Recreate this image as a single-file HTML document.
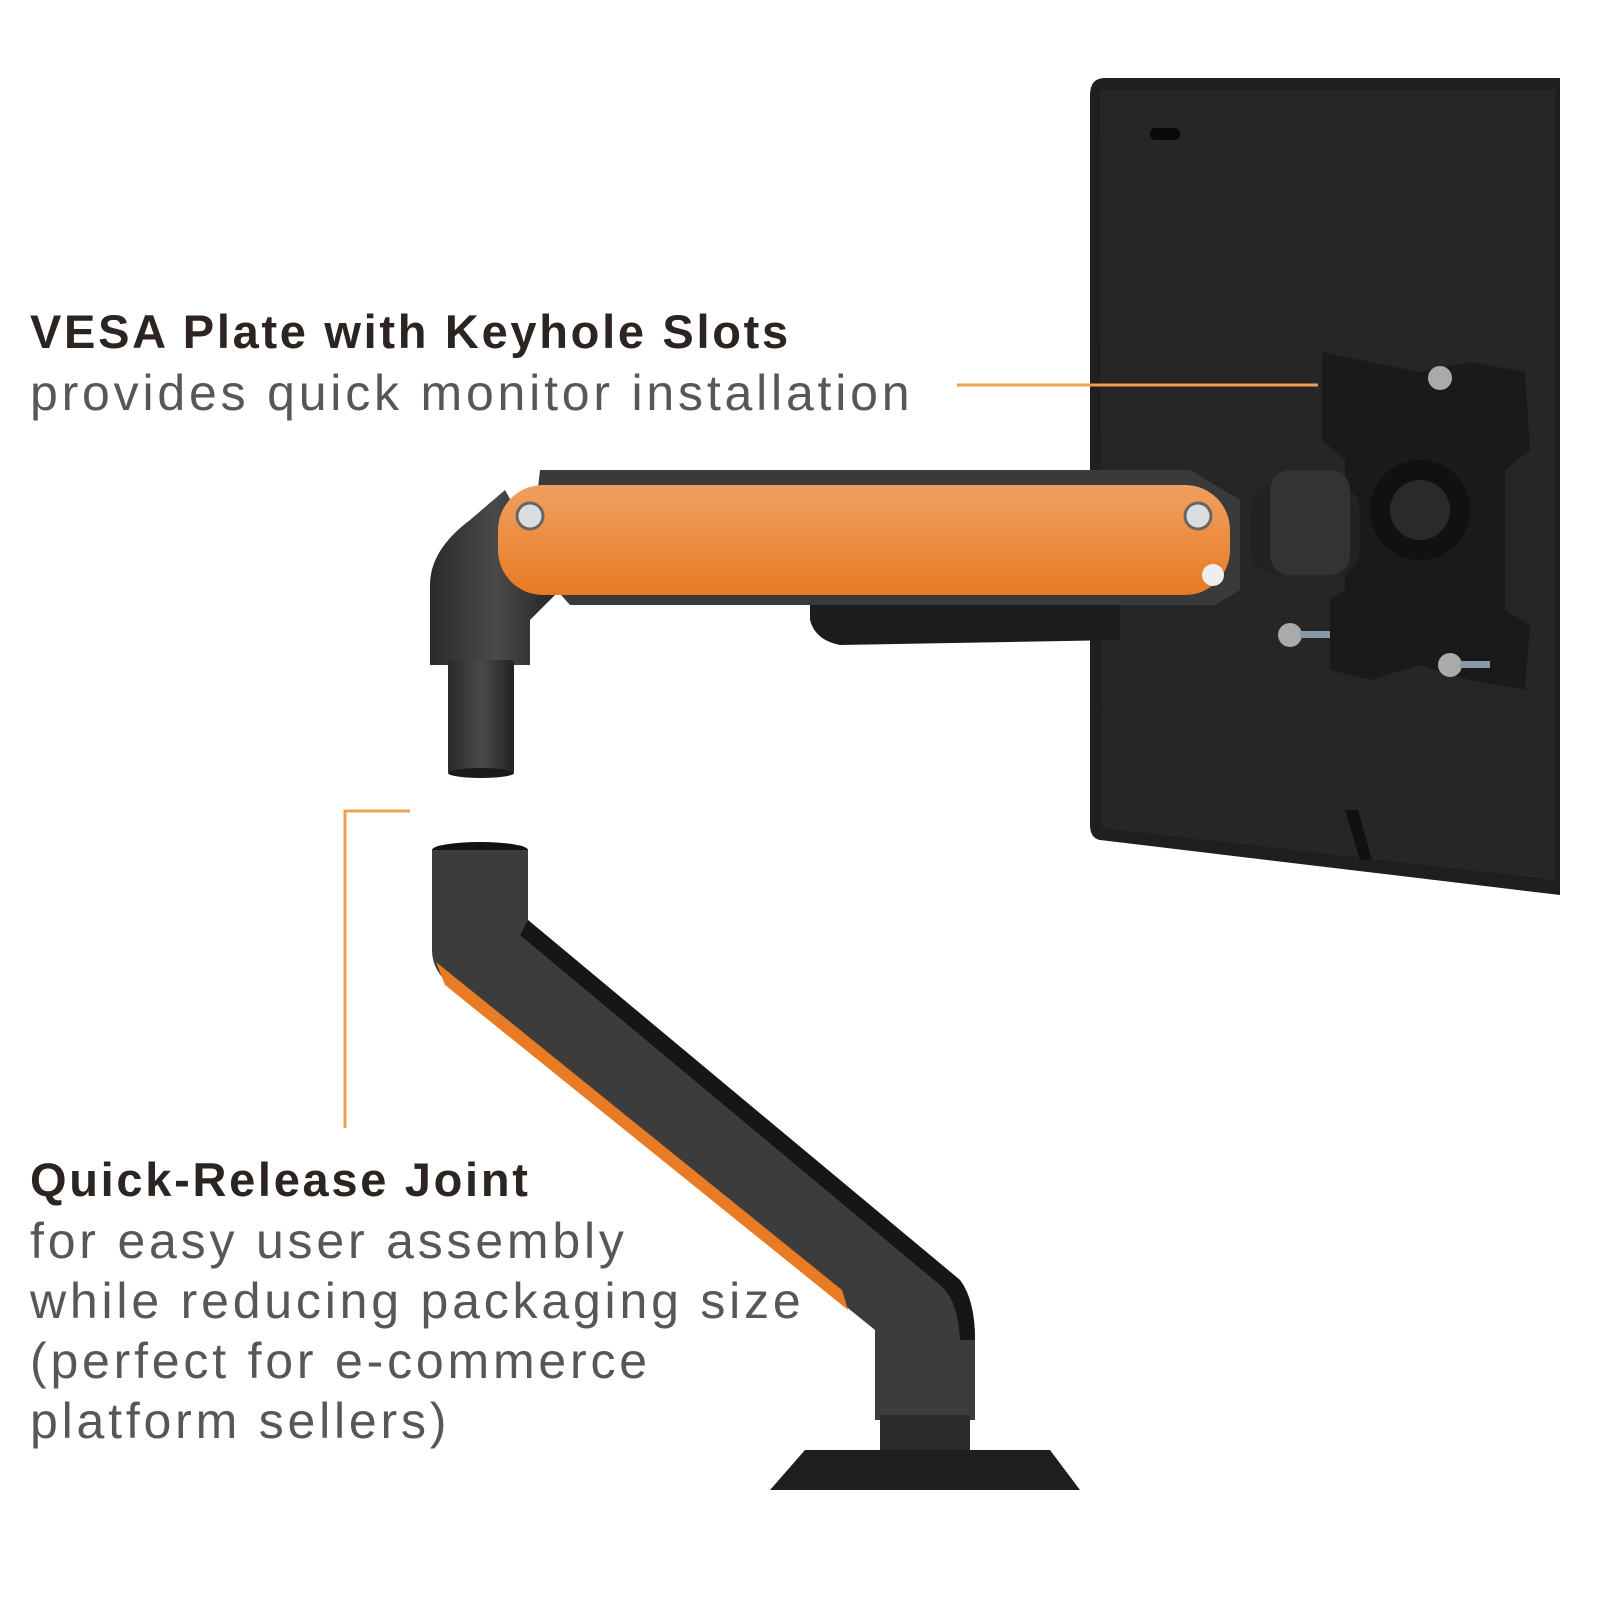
<!DOCTYPE html>
<html><head><meta charset="utf-8"><style>
html,body{margin:0;padding:0;background:#fff;}
svg{display:block}
.b{font-family:"Liberation Sans",sans-serif;font-weight:bold;fill:#2b2421;font-size:47px;letter-spacing:2.7px}
.r{font-family:"Liberation Sans",sans-serif;fill:#5a5654;font-size:50px;letter-spacing:3.8px}
</style></head><body>
<svg width="1600" height="1600" viewBox="0 0 1600 1600" xmlns="http://www.w3.org/2000/svg">
<defs>
<linearGradient id="org" x1="0" y1="0" x2="0" y2="1"><stop offset="0" stop-color="#f0a060"/><stop offset="1" stop-color="#e87a22"/></linearGradient>
<linearGradient id="dk" x1="0" y1="0" x2="1" y2="0"><stop offset="0" stop-color="#2a2a2a"/><stop offset="0.5" stop-color="#4a4a4a"/><stop offset="1" stop-color="#222"/></linearGradient>
</defs>
<path d="M1105 78 L1560 78 L1560 895 L1100 840 Q1090 838 1090 825 L1090 95 Q1090 78 1105 78Z" fill="#1f1f1f"/>
<path d="M1100 90 L1555 90 L1555 880 L1102 828Z" fill="#262626"/>
<rect x="1150" y="128" width="30" height="12" rx="5" fill="#0a0a0a"/>
<path d="M1345 810 L1360 860 L1372 860 L1358 810Z" fill="#111"/>
<path d="M1322 352 L1370 362 L1420 372 L1470 362 L1525 372 L1530 450 L1505 470 L1505 610 L1530 625 L1525 690 L1470 680 L1420 665 L1370 680 L1330 670 L1330 600 L1345 590 L1345 460 L1322 440Z" fill="#1a1a1a"/>
<circle cx="1420" cy="510" r="50" fill="#111"/><circle cx="1420" cy="510" r="30" fill="#2a2a2a"/>
<circle cx="1440" cy="378" r="12" fill="#aaa"/><circle cx="1290" cy="635" r="12" fill="#aaa"/><circle cx="1450" cy="665" r="12" fill="#aaa"/>
<rect x="1300" y="631" width="30" height="7" fill="#8899aa"/><rect x="1460" y="661" width="30" height="7" fill="#8899aa"/>
<rect x="1250" y="485" width="110" height="90" rx="25" fill="#222"/>
<rect x="1270" y="470" width="80" height="105" rx="20" fill="#333"/>
<path d="M810 600 L1120 600 L1120 640 L840 645 Q815 640 810 620Z" fill="#1c1c1c"/>
<path d="M540 470 L1190 470 L1240 500 L1240 590 L1215 605 L570 605 L530 560Z" fill="#3a3a3a"/>
<path d="M430 585 Q430 550 470 520 L505 490 L560 590 L530 620 L530 665 L430 665Z" fill="url(#dk)"/>
<rect x="448" y="660" width="66" height="115" rx="4" fill="url(#dk)"/>
<ellipse cx="481" cy="773" rx="33" ry="5" fill="#1a1a1a"/>
<rect x="498" y="485" width="732" height="110" rx="45" fill="url(#org)"/>
<circle cx="530" cy="516" r="13" fill="#ddd" stroke="#666" stroke-width="3"/>
<circle cx="1198" cy="516" r="13" fill="#ddd" stroke="#666" stroke-width="3"/>
<circle cx="1213" cy="575" r="11" fill="#eee"/>
<ellipse cx="480" cy="850" rx="48" ry="8" fill="#111"/>
<path d="M432 850 L528 850 L528 920 L960 1280 Q975 1300 975 1340 L975 1420 L875 1420 L875 1330 L450 985 Q432 970 432 950Z" fill="#3c3c3c"/>
<path d="M528 920 L960 1280 Q975 1300 975 1340 L960 1340 Q958 1300 940 1285 L520 935Z" fill="#161616"/>
<path d="M436 962 L842 1290 L848 1310 L445 985Z" fill="#ea7b25"/>
<rect x="880" y="1415" width="90" height="40" fill="#2a2a2a"/>
<path d="M805 1450 L1050 1450 L1080 1490 L770 1490Z" fill="#1e1e1e"/>
<line x1="957" y1="385" x2="1318" y2="385" stroke="#f0a050" stroke-width="3"/>
<polyline points="410,811 345,811 345,1128" fill="none" stroke="#f0a050" stroke-width="3"/>
<text class="b" x="30" y="348">VESA Plate with Keyhole Slots</text>
<text class="r" x="30" y="410">provides quick monitor installation</text>
<text class="b" x="30" y="1196">Quick-Release Joint</text>
<text class="r" x="30" y="1258">for easy user assembly</text>
<text class="r" x="30" y="1318">while reducing packaging size</text>
<text class="r" x="30" y="1378">(perfect for e-commerce</text>
<text class="r" x="30" y="1438">platform sellers)</text>
</svg>
</body></html>
